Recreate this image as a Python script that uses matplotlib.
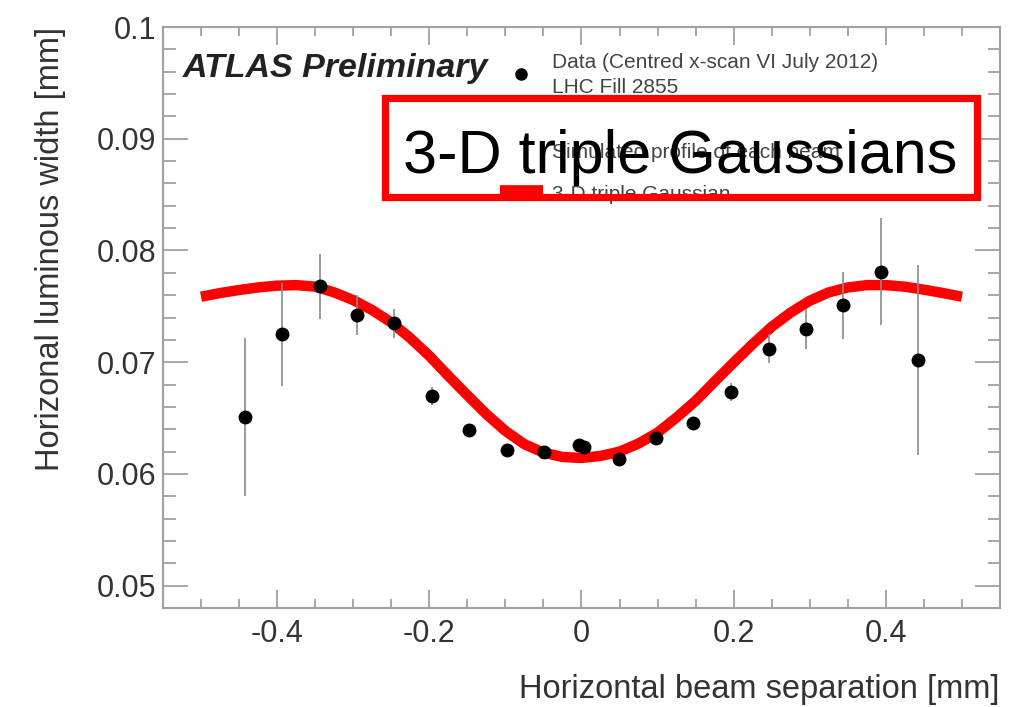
import matplotlib
matplotlib.use("Agg")
from matplotlib import pyplot as plt
from matplotlib.patches import Rectangle
import numpy as np

# data points (beam separation [mm], luminous width [mm], error)
sep = [-0.442, -0.393, -0.344, -0.295, -0.246, -0.197, -0.148, -0.098, -0.049, -0.003,
       0.003, 0.049, 0.098, 0.147, 0.197, 0.246, 0.295, 0.344, 0.393, 0.442]
lum_width = [0.0651, 0.0725, 0.0768, 0.0742, 0.0735, 0.0670, 0.0639, 0.0621, 0.0620, 0.0626,
             0.0624, 0.0613, 0.0632, 0.0646, 0.0673, 0.0712, 0.0730, 0.0751, 0.0781, 0.0702]
lum_err = [0.0071, 0.0046, 0.0029, 0.0018, 0.0013, 0.0008, 0.0004, 0.0003, 0.0003, 0.0003,
           0.0003, 0.0003, 0.0004, 0.0005, 0.0008, 0.0013, 0.0018, 0.0030, 0.0048, 0.0085]

# 3-D triple Gaussian curve (every 0.025 mm)
fit_sep = [-0.5, -0.475, -0.45, -0.425, -0.4, -0.375, -0.35, -0.325, -0.3, -0.275,
           -0.25, -0.225, -0.2, -0.175, -0.15, -0.125, -0.1, -0.075, -0.05, -0.025,
           0.0, 0.025, 0.05, 0.075, 0.1, 0.125, 0.15, 0.175, 0.2, 0.225,
           0.25, 0.275, 0.3, 0.325, 0.35, 0.375, 0.4, 0.425, 0.45, 0.475, 0.5]
fit_width = [0.07586, 0.07619, 0.07646, 0.07669, 0.07685, 0.07690, 0.07676, 0.07625, 0.07556, 0.07466,
             0.07356, 0.07216, 0.07057, 0.06878, 0.06705, 0.06535, 0.06385, 0.06266, 0.06191, 0.06152,
             0.06143, 0.06161, 0.06200, 0.06272, 0.06370, 0.06505, 0.06654, 0.06827, 0.06997, 0.07162,
             0.07317, 0.07445, 0.07550, 0.07625, 0.07669, 0.07690, 0.07690, 0.07676, 0.07649, 0.07619, 0.07586]

xticks = [-0.4, -0.2, 0, 0.2, 0.4]
xtick_labels = ["-0.4", "-0.2", "0", "0.2", "0.4"]
yticks = [0.05, 0.06, 0.07, 0.08, 0.09, 0.1]
ytick_labels = ["0.05", "0.06", "0.07", "0.08", "0.09", "0.1"]

legend_lines = ["Data (Centred x-scan VI July 2012)", "LHC Fill 2855",
                "Simulated profile of each beam", "3-D triple Gaussian"]

plt.rcParams['font.family'] = ['Liberation Sans', 'DejaVu Sans']

fig = plt.figure(figsize=(10.23, 7.07), dpi=100)
ax = fig.add_axes([0.1593, 0.140, 0.8182, 0.8218])

grey = '#a0a0a0'
ax.errorbar(sep, lum_width, yerr=lum_err, fmt='o', color='black', ms=9,
            ecolor='#8a8a8a', elinewidth=1.2, capsize=0, zorder=3)
ax.plot(fit_sep, fit_width, color='#ff0000', lw=7.5, solid_joinstyle='round',
        solid_capstyle='butt', zorder=2)

ax.set_xlim(-0.55, 0.55)
ax.set_ylim(0.048, 0.1)
ax.set_xticks(xticks)
ax.set_xticklabels(xtick_labels)
ax.set_yticks(yticks)
ax.set_yticklabels(ytick_labels)
ax.set_xticks(np.arange(-0.5, 0.51, 0.05), minor=True)
ax.set_yticks(np.arange(0.048, 0.1001, 0.002), minor=True)

ax.tick_params(which='both', direction='in', top=True, right=True, color=grey,
               width=1.3, labelsize=22, labelcolor='#333333')
ax.tick_params(axis='x', which='major', length=13, pad=8)
ax.tick_params(axis='x', which='minor', length=6.5)
ax.tick_params(axis='y', which='major', length=18, pad=5)
ax.tick_params(axis='y', which='minor', length=9)
for s in ax.spines.values():
    s.set_color(grey)
    s.set_linewidth(1.5)

ax.set_xlabel("Horizontal beam separation [mm]", fontsize=23.5, color='#333333',
              loc='right', labelpad=18)
ax.set_ylabel("Horizonal luminous width [mm]", fontsize=23.5, color='#333333',
              loc='top', labelpad=22)

# ATLAS label and legend
ax.text(0.024, 0.914, "ATLAS Preliminary", transform=ax.transAxes, fontsize=24.5,
        fontweight='bold', fontstyle='italic', color='#222222', va='baseline')
ax.plot([0.4277], [0.9191], 'o', color='black', ms=8, transform=ax.transAxes, clip_on=False)
ax.plot([0.4026, 0.4540], [0.7194, 0.7194], color='#ff0000', lw=7,
        transform=ax.transAxes, solid_capstyle='butt')
for txt, yb in zip(legend_lines, [0.9294, 0.8864, 0.7745, 0.7020]):
    ax.text(0.4648, yb, txt, transform=ax.transAxes, fontsize=15,
            color='#444444', va='baseline')

# overlay box with big caption
fig.patches.append(Rectangle((385 / 1023, 1 - 197 / 707), (977 - 385) / 1023, (197 - 98) / 707,
                             transform=fig.transFigure, fill=False, edgecolor='#ff0000',
                             linewidth=5.2, zorder=10))
fig.text(403 / 1023, 1 - 173 / 707, "3-D triple Gaussians", fontsize=44,
         color='black', va='baseline', zorder=11)

fig.savefig("out.png", dpi=100)
